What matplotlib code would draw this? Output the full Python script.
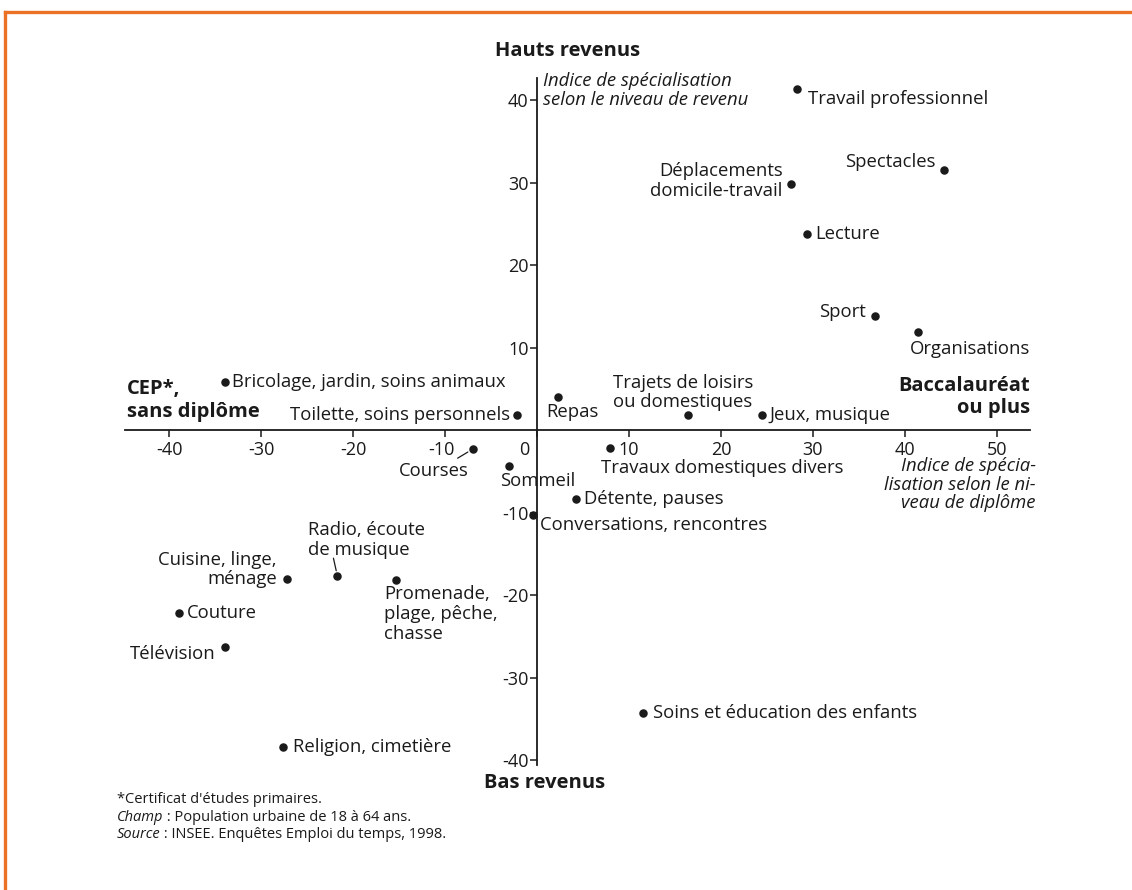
import matplotlib
matplotlib.use("Agg")
import matplotlib.pyplot as plt
import matplotlib.transforms as mtransforms
from matplotlib.lines import Line2D

plt.rcParams['font.family'] = ['Open Sans', 'DejaVu Sans']
plt.rcParams['axes.unicode_minus'] = False

# activities: index by diploma level (x) and by income level (y)
activities = ['Travail professionnel', 'Spectacles', 'Déplacements\ndomicile-travail',
              'Lecture', 'Sport', 'Organisations', 'Bricolage, jardin, soins animaux',
              'Toilette, soins personnels', 'Repas', 'Trajets de loisirs\nou domestiques',
              'Jeux, musique', 'Courses', 'Sommeil', 'Travaux domestiques divers',
              'Détente, pauses', 'Conversations, rencontres', 'Radio, écoute\nde musique',
              'Cuisine, linge,\nménage', 'Promenade,\nplage, pêche,\nchasse', 'Couture',
              'Télévision', 'Soins et éducation des enfants', 'Religion, cimetière']
diploma = [28.3, 44.2, 27.6, 29.3, 36.7, 41.4, -33.9, -2.2, 2.3, 16.4, 24.5, -7.0,
           -3.1, 7.9, 4.2, -0.4, -21.7, -27.2, -15.3, -38.9, -33.9, 11.5, -27.6]
income = [41.4, 31.6, 29.9, 23.8, 13.8, 11.9, 5.9, 1.9, 4.0, 1.9, 1.9, -2.3,
          -4.4, -2.1, -8.4, -10.3, -17.7, -18.1, -18.2, -22.2, -26.3, -34.3, -38.4]

x_ticks = [-40, -30, -20, -10, 0, 10, 20, 30, 40, 50]
y_ticks = [-40, -30, -20, -10, 10, 20, 30, 40]

# label placement: (dx, dy) in pixels, horizontal alignment
placement = {
    'Travail professionnel': (11, -10, 'left'),
    'Spectacles': (-8, 8, 'right'),
    'Déplacements\ndomicile-travail': (-8, 3, 'right'),
    'Lecture': (9, 0, 'left'),
    'Sport': (-9, 4, 'right'),
    'Organisations': (-8, -17, 'left'),
    'Bricolage, jardin, soins animaux': (7, 0, 'left'),
    'Toilette, soins personnels': (-7, 0, 'right'),
    'Repas': (-12, -15, 'left'),
    'Trajets de loisirs\nou domestiques': (-75, 22, 'left'),
    'Jeux, musique': (7, 0, 'left'),
    'Courses': (-39, -22, 'center'),
    'Sommeil': (29, -15, 'center'),
    'Travaux domestiques divers': (-9, -20, 'left'),
    'Détente, pauses': (8, 0, 'left'),
    'Conversations, rencontres': (7, -10, 'left'),
    'Radio, écoute\nde musique': (-29, 36, 'left'),
    'Cuisine, linge,\nménage': (-10, 10, 'right'),
    'Promenade,\nplage, pêche,\nchasse': (-12, -34, 'left'),
    'Couture': (8, 0, 'left'),
    'Télévision': (-10, -7, 'right'),
    'Soins et éducation des enfants': (10, 0, 'left'),
    'Religion, cimetière': (10, 0, 'left'),
}
leaders = {'Courses': (-15, -9), 'Radio, écoute\nde musique': (-4, 18)}

ink = '#1a1a1a'
fs = 13.3
fig = plt.figure(figsize=(11.32, 8.9), dpi=100)
ax = fig.add_axes([0.1104, 0.1404, 0.7995, 0.7719])
ax.set_xlim(-44.8, 53.6)
ax.set_ylim(-40.6, 42.7)

for s in ['top', 'right']:
    ax.spines[s].set_visible(False)
for s in ['left', 'bottom']:
    ax.spines[s].set_position(('data', 0))
    ax.spines[s].set_linewidth(1.3)
    ax.spines[s].set_color(ink)

ax.set_xticks(x_ticks)
ax.set_yticks(y_ticks)
ax.tick_params(axis='both', length=5, width=1.1, color=ink, labelsize=13,
               labelcolor=ink, direction='out', pad=3)
ax.tick_params(axis='y', pad=1)
shifts = {'0': -13, '-10': -4}
for lab in ax.get_xticklabels():
    if lab.get_text() in shifts:
        off = mtransforms.ScaledTranslation(shifts[lab.get_text()] / 100, 0,
                                            fig.dpi_scale_trans)
        lab.set_transform(lab.get_transform() + off)

ax.scatter(diploma, income, s=26, color=ink, zorder=3)

for name, x, y in zip(activities, diploma, income):
    dx, dy, ha = placement[name]
    ax.annotate(name, (x, y), xytext=(dx, dy), textcoords='offset pixels',
                ha=ha, va='center', multialignment=ha, fontsize=fs,
                color=ink, linespacing=1.13)
    if name in leaders:
        lx, ly = leaders[name]
        ax.annotate('', (x, y), xytext=(lx, ly), textcoords='offset pixels',
                    arrowprops=dict(arrowstyle='-', color=ink, lw=0.9,
                                    shrinkA=0, shrinkB=4))

bold = dict(fontsize=14.5, fontweight='bold', color=ink, clip_on=False)
ax.text(3.3, 46.0, 'Hauts revenus', ha='center', va='center', **bold)
ax.text(0.8, -42.8, 'Bas revenus', ha='center', va='center', **bold)
ax.text(-44.6, 3.6, 'CEP*,\nsans diplôme', ha='left', va='center',
        linespacing=1.15, **bold)
ax.text(53.6, 4.0, 'Baccalauréat\nou plus', ha='right', va='center',
        multialignment='right', linespacing=1.15, **bold)

ax.text(0.7, 41.2, 'Indice de spécialisation\nselon le niveau de revenu',
        ha='left', va='center', style='italic', fontsize=fs, color=ink,
        linespacing=1.1)
ax.text(54.2, -6.6, 'Indice de spécia-\nlisation selon le ni-\nveau de diplôme',
        ha='right', va='center', multialignment='right', style='italic',
        fontsize=fs, color=ink, linespacing=1.02, clip_on=False)

# footnotes, with italic lead words
nfs = 10.5
fig.text(0.103, 0.102, "*Certificat d'études primaires.", fontsize=nfs, color=ink, va='center')
for yy, lead, rest in [(0.082, "Champ", " : Population urbaine de 18 à 64 ans."),
                       (0.062, "Source", " : INSEE. Enquêtes Emploi du temps, 1998.")]:
    t = fig.text(0.103, yy, lead, fontsize=nfs, color=ink, va='center', style='italic')
    fig.canvas.draw()
    fig.text(0.103, yy, rest, fontsize=nfs, color=ink, va='center',
             transform=mtransforms.offset_copy(fig.transFigure, fig=fig,
                                               x=t.get_window_extent().width, units='dots'))

# orange frame, top and left only
orange = '#ea7125'
fig.add_artist(Line2D([0.004, 1.0], [0.986, 0.986], color=orange, lw=2.4))
fig.add_artist(Line2D([0.0045, 0.0045], [0.0, 0.986], color=orange, lw=2.4))

fig.savefig('out.png', dpi=100, facecolor='white')
